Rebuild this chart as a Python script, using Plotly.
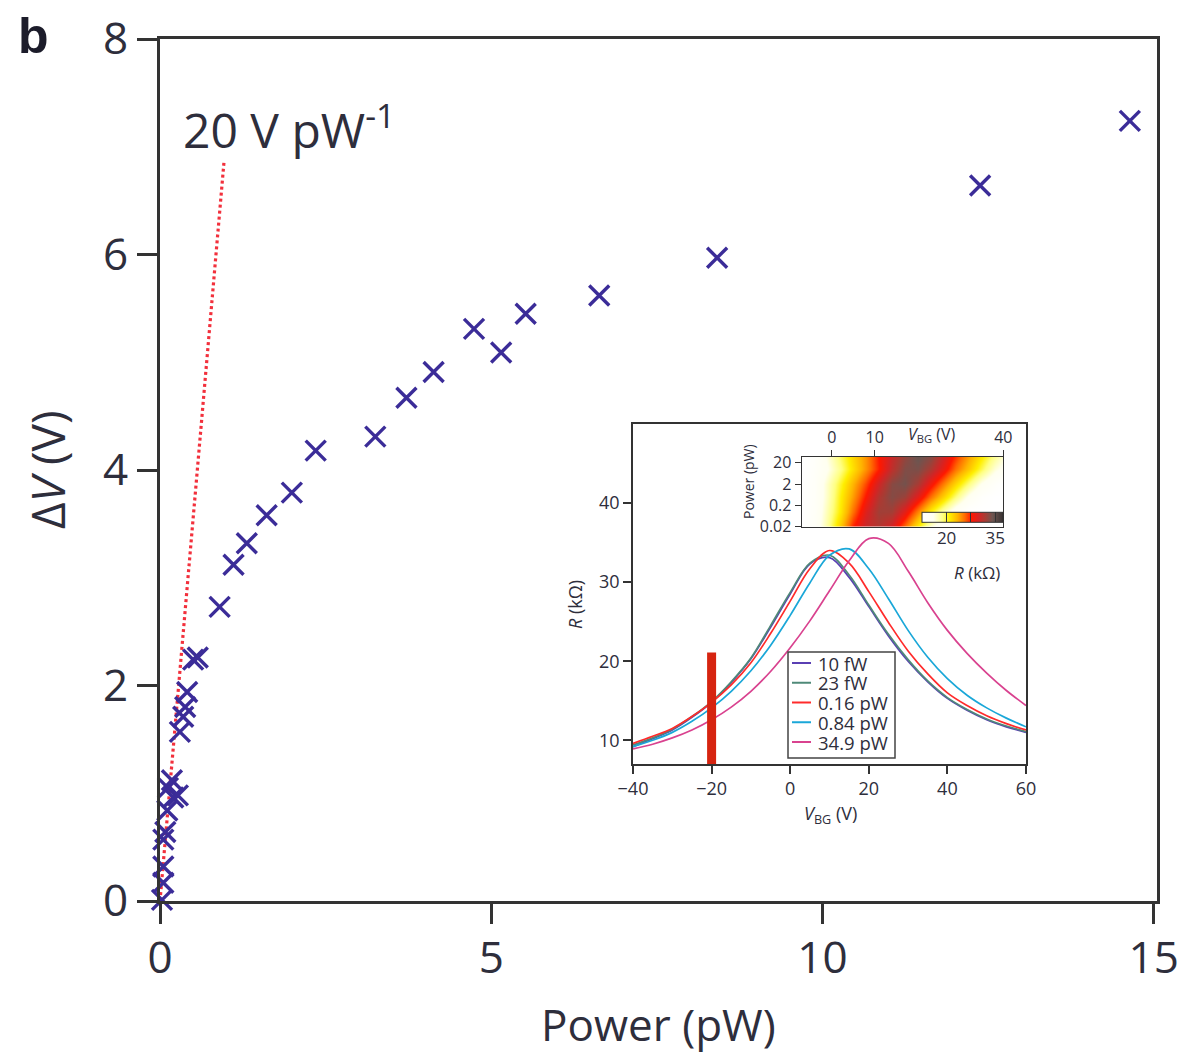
import numpy as np
import plotly.graph_objects as go

# ---------------- main panel: photovoltage vs absorbed power ----------------
power_pw = [0.03, 0.05, 0.05, 0.05, 0.08, 0.11, 0.12, 0.20, 0.18, 0.27, 0.30, 0.35,
            0.38, 0.41, 0.50, 0.57, 0.90, 1.11, 1.31, 1.61, 1.99, 2.35, 3.25,
            3.72, 4.13, 4.74, 5.15, 5.52, 6.63, 8.41, 12.38, 14.64]
delta_v = [0.01, 0.17, 0.32, 0.57, 0.64, 0.84, 1.05, 0.96, 1.12, 0.98, 1.57, 1.71,
           1.80, 1.94, 2.24, 2.26, 2.73, 3.12, 3.32, 3.58, 3.79, 4.18, 4.31,
           4.67, 4.91, 5.31, 5.09, 5.45, 5.62, 5.97, 6.64, 7.24]

# low-power slope guide line
guide_slope = 7.1      # V per pW, as drawn
guide_top_dv = 6.85    # V
guide_label = "20 V pW<sup>-1</sup>"

main_xticks = [0, 5, 10, 15]
main_yticks = [0, 2, 4, 6, 8]

# ---------------- inset: R(V_BG) for several powers ----------------
vbg = [-40, -35, -30, -25, -20, -15, -10, -5, 0, 5, 10, 15, 20, 25, 30, 35, 40, 45, 50, 55, 60]
curve_labels = ["10 fW", "23 fW", "0.16 pW", "0.84 pW", "34.9 pW"]
curve_colors = ["#5a3fb3", "#4f8a78", "#ff2b2b", "#1aa7d8", "#d9428f"]
r_10fw = [9.2, 10.2, 11.3, 12.9, 14.8, 17.3, 20.3, 24.3, 28.5, 32.3, 33.1, 30.6, 26.9, 23.2, 20.0, 17.4, 15.3, 13.8, 12.6, 11.7, 11.0]
r_23fw = [9.4, 10.3, 11.4, 13.0, 14.9, 17.4, 20.4, 24.5, 28.7, 32.4, 33.4, 30.9, 27.1, 23.4, 20.2, 17.5, 15.4, 13.9, 12.7, 11.8, 11.1]
r_016pw = [9.6, 10.5, 11.5, 13.0, 14.8, 17.0, 19.8, 23.5, 27.6, 31.7, 34.0, 32.4, 28.8, 24.9, 21.3, 18.4, 16.0, 14.4, 13.1, 12.1, 11.3]
r_084pw = [9.2, 10.0, 11.0, 12.4, 14.1, 16.2, 18.8, 22.0, 25.8, 29.9, 33.4, 34.2, 31.7, 27.9, 23.9, 20.5, 17.8, 15.7, 14.1, 12.8, 11.7]
r_349pw = [8.9, 9.5, 10.3, 11.3, 12.6, 14.2, 16.2, 18.7, 21.7, 25.1, 28.9, 32.7, 35.5, 34.9, 31.4, 27.4, 23.9, 21.0, 18.5, 16.3, 14.4]
curves = [r_10fw, r_23fw, r_016pw, r_084pw, r_349pw]

# operating gate voltage marker
marker_vbg = -20
marker_r_top = 21.1

inset_xticks = [-40, -20, 0, 20, 40, 60]
inset_yticks = [10, 20, 30, 40]

# ---------------- inset map: R(V_BG, power) ----------------
map_vbg = [-7, -4, -1, 2, 5, 8, 11, 14, 17, 20, 23, 26, 29, 32, 35, 38, 40]
map_power = [0.02, 0.1, 0.5, 2, 10, 38]
map_r = [
    [12.5, 14.5, 18.3, 22.7, 27.5, 30.6, 31.5, 29.8, 25.6, 21.2, 16.8, 13.5, 12.5, 12.5, 12.5, 12.5, 12.5],
    [12.6, 14.2, 17.8, 21.3, 25.5, 29.5, 32.3, 32.2, 29.2, 25.0, 20.9, 17.5, 14.5, 12.5, 12.5, 12.5, 12.5],
    [12.7, 14.0, 17.3, 21.0, 24.2, 27.9, 31.5, 33.4, 32.5, 29.3, 25.5, 22.2, 19.0, 15.6, 13.3, 12.5, 12.5],
    [12.7, 14.0, 17.2, 20.4, 23.4, 26.6, 30.2, 33.2, 34.0, 32.0, 28.5, 25.1, 22.0, 18.9, 15.8, 13.7, 12.6],
    [12.5, 13.8, 16.0, 18.8, 21.6, 24.5, 27.6, 31.0, 33.5, 33.8, 31.8, 28.8, 25.5, 22.7, 19.7, 16.7, 15.4],
    [12.6, 13.5, 16.5, 19.5, 22.0, 24.5, 27.8, 30.5, 32.8, 34.5, 33.3, 30.1, 27.0, 24.0, 21.2, 18.4, 16.6],
]
map_xticks = [0, 10, 40]
map_yticks = [0.02, 0.2, 2, 20]
map_ytext = ["0.02", "0.2", "2", "20"]
cbar_ticks = [20, 27.5, 35]
cbar_text = ["20", " ", "35"]

FONT = "Open Sans"
TXT = "#2e2e3c"
AX = "#333333"

# figure geometry (pixels)
W, H = 1180, 1054
ML, MR, MT, MB = 160, 23, 39, 153
PW, PH = W - ML - MR, H - MT - MB


def px_x(x):
    return (x - ML) / PW


def px_y(y):
    return (H - MB - y) / PH


fig = go.Figure()

# slope guide
guide_p = [0, guide_top_dv / guide_slope]
guide_v = [0, guide_top_dv]
fig.add_trace(go.Scatter(
    x=guide_p, y=guide_v, mode="lines",
    line=dict(color="#f2303c", width=3.2, dash="3px,3px"),
    showlegend=False, cliponaxis=False, xaxis="x", yaxis="y"))

# measured points
fig.add_trace(go.Scatter(
    x=power_pw, y=delta_v, mode="markers",
    marker=dict(symbol="x-thin", size=20, color="#3b2c98",
                line=dict(color="#3b2c98", width=3.4)),
    showlegend=False, cliponaxis=False, xaxis="x", yaxis="y"))

# inset curves
for lab, col, r in zip(curve_labels, curve_colors, curves):
    fig.add_trace(go.Scatter(
        x=vbg, y=r, mode="lines", name=lab,
        line=dict(color=col, width=1.7, shape="spline", smoothing=1.0),
        showlegend=False, xaxis="x2", yaxis="y2"))

fig.add_trace(go.Scatter(
    x=[marker_vbg, marker_vbg], y=[0, marker_r_top], mode="lines",
    line=dict(color="#d62410", width=9),
    showlegend=False, xaxis="x2", yaxis="y2"))

# inset map
colorscale = [
    [0.00, "#ffffff"],
    [0.14, "#fffff0"],
    [0.26, "#ffff80"],
    [0.34, "#ffef00"],
    [0.44, "#ffb400"],
    [0.53, "#ff6a00"],
    [0.61, "#ff1800"],
    [0.70, "#d42424"],
    [0.78, "#a83c34"],
    [0.87, "#6e5550"],
    [1.00, "#383232"],
]
fig.add_trace(go.Heatmap(
    x=map_vbg, y=map_power, z=map_r, zmin=12.5, zmax=37.5,
    colorscale=colorscale, zsmooth="best", xaxis="x3", yaxis="y3",
    colorbar=dict(
        orientation="h", x=px_x(962.8), xanchor="center", y=px_y(536), yanchor="middle",
        len=81, lenmode="pixels", thickness=10, thicknessmode="pixels",
        outlinewidth=1, outlinecolor=AX, xpad=0, ypad=0,
        tickvals=cbar_ticks, ticktext=cbar_text, ticks="inside", ticklen=10,
        tickcolor=AX, tickwidth=1,
        tickfont=dict(family=FONT, size=17, color=TXT)),
))

main_axis = dict(showline=True, linewidth=3, linecolor=AX, mirror=True,
                 ticks="outside", ticklen=20, tickwidth=3, tickcolor=AX,
                 showgrid=False, zeroline=False, automargin=False,
                 tickfont=dict(family=FONT, size=44, color=TXT))
inset_axis = dict(showline=True, linewidth=1.5, linecolor=AX, mirror=True,
                  ticks="outside", ticklen=8, tickwidth=1.5, tickcolor=AX,
                  showgrid=False, zeroline=False, automargin=False,
                  tickfont=dict(family=FONT, size=18, color=TXT))
map_axis = dict(showline=True, linewidth=1.2, linecolor=AX, mirror=True,
                ticks="outside", ticklen=6, tickwidth=1.2, tickcolor=AX,
                showgrid=False, zeroline=False, automargin=False,
                tickfont=dict(family=FONT, size=16, color=TXT))

fig.update_layout(
    width=W, height=H,
    margin=dict(l=ML, r=MR, t=MT, b=MB),
    paper_bgcolor="white", plot_bgcolor="white",
    font=dict(family=FONT, color=TXT),
    showlegend=False,
    xaxis=dict(main_axis, domain=[0, 1], range=[0, 15.05], tickvals=main_xticks,
               ticklabelstandoff=-4),
    yaxis=dict(main_axis, domain=[0, 1], range=[0, 8], tickvals=main_yticks),
    xaxis2=dict(inset_axis, domain=[px_x(633), px_x(1026)], range=[-40, 60],
                tickvals=inset_xticks, anchor="y2"),
    yaxis2=dict(inset_axis, domain=[px_y(764), px_y(424)], range=[7, 50],
                tickvals=inset_yticks, anchor="x2"),
    xaxis3=dict(map_axis, domain=[px_x(801.7), px_x(1003.3)], range=[-7, 40], side="top",
                tickvals=map_xticks, anchor="y3"),
    yaxis3=dict(map_axis, domain=[px_y(526.7), px_y(456.7)], type="log",
                range=[np.log10(map_power[0]), np.log10(map_power[-1])],
                tickvals=map_yticks, ticktext=map_ytext, anchor="x3"),
)

# legend of the inset, drawn as a framed box with line samples
leg_left, leg_right, leg_top, leg_bottom = 788, 895, 652, 758
leg_row0, leg_step = 663, 19.75
shapes = [dict(type="rect", xref="paper", yref="paper",
               x0=px_x(leg_left), x1=px_x(leg_right), y0=px_y(leg_bottom), y1=px_y(leg_top),
               line=dict(color="#444444", width=1.5), fillcolor="white", layer="above")]
annotations = []
for i, (lab, col) in enumerate(zip(curve_labels, curve_colors)):
    yy = px_y(leg_row0 + i * leg_step)
    shapes.append(dict(type="line", xref="paper", yref="paper",
                       x0=px_x(792), x1=px_x(811), y0=yy, y1=yy,
                       line=dict(color=col, width=2), layer="above"))
    annotations.append(dict(text=lab, x=px_x(816), y=yy, xanchor="left",
                            font=dict(size=18.5)))

annotations += [
    dict(text="<b>b</b>", x=px_x(33), y=px_y(36), font=dict(family="Liberation Sans", size=50, color="#1c1c2a")),
    dict(text=guide_label, x=px_x(181), y=px_y(127), xanchor="left", font=dict(size=48)),
    dict(text="Power (pW)", x=px_x(658), y=px_y(1024), font=dict(size=44)),
    dict(text="Δ<i>V</i> (V)", x=px_x(47), y=px_y(470), textangle=-90, font=dict(size=46)),
    dict(text="<i>V</i><sub>BG</sub> (V)", x=px_x(830), y=px_y(814), font=dict(size=18)),
    dict(text="<i>R</i> (kΩ)", x=px_x(575), y=px_y(605), textangle=-90, font=dict(size=18)),
    dict(text="Power (pW)", x=px_x(748), y=px_y(482), textangle=-90, font=dict(size=14)),
    dict(text="<i>V</i><sub>BG</sub> (V)", x=px_x(932), y=px_y(435), font=dict(size=16)),
    dict(text="<i>R</i> (kΩ)", x=px_x(977), y=px_y(572), font=dict(size=17)),
]
for a in annotations:
    a.setdefault("xanchor", "center")
    a.update(xref="paper", yref="paper", showarrow=False, yanchor="middle")
    a["font"] = dict(dict(family=FONT, color=TXT), **a["font"])
fig.update_layout(annotations=annotations, shapes=shapes)

fig.write_html("out.html")
